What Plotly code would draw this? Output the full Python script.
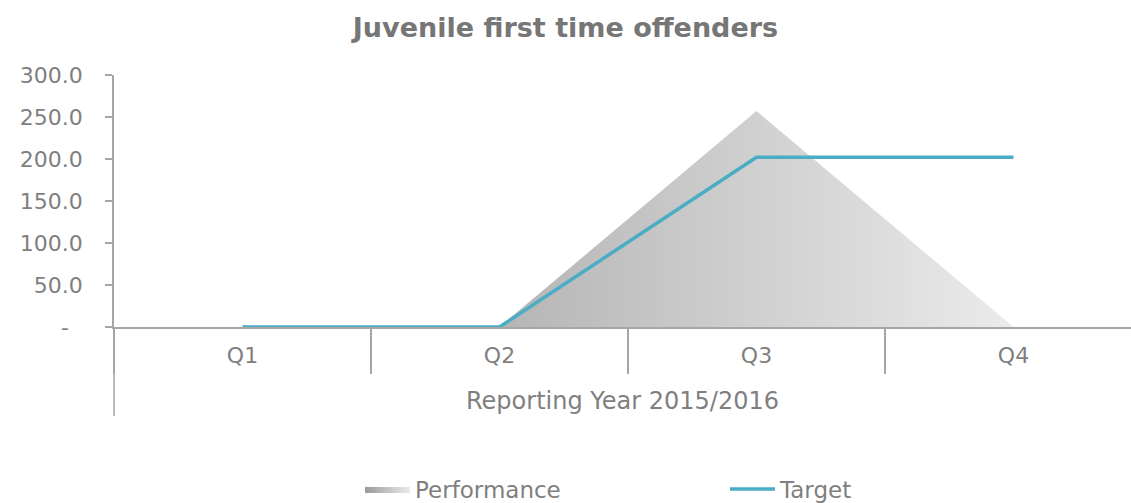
import plotly.graph_objects as go

# Quarterly figures for the reporting year
quarters = ["Q1", "Q2", "Q3", "Q4"]
performance = [0.0, 0.0, 257.0, 0.0]
target = [0.0, 0.0, 202.0, 202.0]

y_tick_values = [0, 50, 100, 150, 200, 250, 300]
y_tick_labels = ["-\u00a0\u00a0", "50.0", "100.0", "150.0", "200.0", "250.0", "300.0"]

W, H = 1131, 503
M_LEFT, M_TOP, M_BOTTOM, M_RIGHT = 114, 75, 176, 0
PLOT_H = H - M_TOP - M_BOTTOM

TEXT = "#7f7f7f"
AXIS = "#a6a6a6"
FONT = "DejaVu Sans"

fig = go.Figure()

fig.add_trace(go.Scatter(
    x=quarters, y=performance, name="Performance",
    mode="lines", fill="tozeroy",
    line=dict(width=0, color="rgba(0,0,0,0)"),
    fillgradient=dict(type="horizontal",
                      colorscale=[[0, "#9a9a9a"], [1, "#ebebeb"]]),
    hoverinfo="x+y",
))

fig.add_trace(go.Scatter(
    x=quarters, y=target, name="Target",
    mode="lines",
    line=dict(width=3.5, color="#4bacc6"),
    hoverinfo="x+y",
))

# px per category = 257, plot area runs to the right edge
x_end = -0.5 + (W - M_LEFT - M_RIGHT) / 257.0

fig.update_layout(
    width=W, height=H,
    margin=dict(l=M_LEFT, r=M_RIGHT, t=M_TOP, b=M_BOTTOM, autoexpand=False),
    paper_bgcolor="white", plot_bgcolor="white",
    font=dict(family=FONT, size=22, color=TEXT),
    title=dict(text="<b>Juvenile first time offenders</b>",
               font=dict(family=FONT, size=27, color="#767676"),
               xref="container", x=0.5, xanchor="center",
               yref="container", y=1 - 28 / H, yanchor="middle"),
    xaxis=dict(
        type="category", range=[-0.5, x_end],
        showgrid=False, zeroline=False,
        showline=True, linecolor=AXIS, linewidth=1.5,
        ticks="outside", tickson="boundaries", ticklen=45,
        tickcolor=AXIS, tickwidth=1.5,
        ticklabelstandoff=8,
        tickfont=dict(size=22, color=TEXT),
        title=dict(text="Reporting Year 2015/2016",
                   font=dict(size=24, color=TEXT), standoff=25),
    ),
    yaxis=dict(
        range=[0, 300], tickvals=y_tick_values, ticktext=y_tick_labels,
        showgrid=False, zeroline=False,
        showline=True, linecolor=AXIS, linewidth=1.5,
        ticks="outside", ticklen=7, tickcolor=AXIS, tickwidth=1.5,
        ticklabelstandoff=18,
        tickfont=dict(size=22, color=TEXT),
    ),
    legend=dict(
        orientation="h", xref="container", x=360 / W, xanchor="left",
        yref="container", y=1 - 489 / H, yanchor="middle",
        itemwidth=45, entrywidth=305, entrywidthmode="pixels",
        font=dict(size=23, color=TEXT), bgcolor="rgba(0,0,0,0)",
        traceorder="normal",
    ),
    showlegend=True,
)

# vertical axis line continues down past the category band
fig.add_shape(type="line", xref="paper", yref="paper",
              x0=0, x1=0, y0=0, y1=-(416 - (H - M_BOTTOM)) / PLOT_H,
              line=dict(color=AXIS, width=1.5), layer="above")

fig.write_html("out.html")
